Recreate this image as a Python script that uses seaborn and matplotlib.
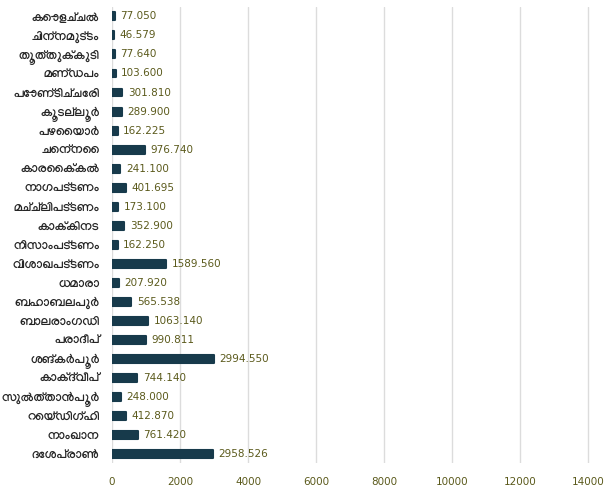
import matplotlib
matplotlib.use("Agg")
import matplotlib.pyplot as plt
import seaborn as sns
import pandas as pd

# ports and values
ports = [
    "കൊളച്ചൽ", "ചിന്നമുട്ടം", "തൂത്തുക്കുടി", "മണ്ഡപം", "പോണ്ടിച്ചേരി",
    "കൂടല്ലൂർ", "പഴൈയാർ", "ചെന്നൈ", "കാരൈക്കൽ", "നാഗപട്ടണം",
    "മച്ച്ലിപട്ടണം", "കാക്കിനട", "നിസാംപട്ടണം", "വിശാഖപട്ടണം", "ധമാരാ",
    "ബഹാബലപുർ", "ബാലരാംഗഡി", "പരാദീപ്", "ശങ്കർപൂർ", "കാക്ദ്വീപ്",
    "സുൽത്താൻപൂർ", "റെയ്ഡിഗ്ഹി", "നാംഖാന", "ദേശപ്രാൺ",
]
values = [
    77.050, 46.579, 77.640, 103.600, 301.810,
    289.900, 162.225, 976.740, 241.100, 401.695,
    173.100, 352.900, 162.250, 1589.560, 207.920,
    565.538, 1063.140, 990.811, 2994.550, 744.140,
    248.000, 412.870, 761.420, 2958.526,
]
xticks = [0, 2000, 4000, 6000, 8000, 10000, 12000, 14000]

df = pd.DataFrame({"port": ports, "value": values})

sns.set_style("white")
plt.rcParams["font.family"] = ["Manjari", "Noto Sans Malayalam", "DejaVu Sans"]

bar_color = "#173a4b"
olive = "#5b5a1c"

fig = plt.figure(figsize=(6.06, 4.98), dpi=100)
ax = fig.add_axes([0.185, 0.07, 0.813, 0.916])

sns.barplot(data=df, x="value", y="port", color=bar_color, width=0.42,
            saturation=1, ax=ax, zorder=3)
for p in ax.patches:
    p.set_edgecolor(bar_color)
    p.set_linewidth(1.5)
    p.set_joinstyle("round")

ax.bar_label(ax.containers[0], labels=[f"{v:.3f}" for v in values],
             padding=4, fontsize=7.5, color=olive,
             family=["DejaVu Sans"])

ax.set_xlim(0, 14500)
ax.set_xticks(xticks)
ax.set_xticklabels([str(t) for t in xticks], family=["DejaVu Sans"])
ax.tick_params(axis="x", length=0, pad=10, labelsize=7.5, labelcolor=olive)
ax.tick_params(axis="y", length=0, pad=9, labelsize=9)
for lab in ax.get_yticklabels():
    lab.set_fontweight("bold")
ax.grid(axis="x", color="#dcdcdc", linewidth=1, zorder=0)
ax.set_xlabel("")
ax.set_ylabel("")
sns.despine(ax=ax, left=True, bottom=True)

fig.savefig("out.png")
